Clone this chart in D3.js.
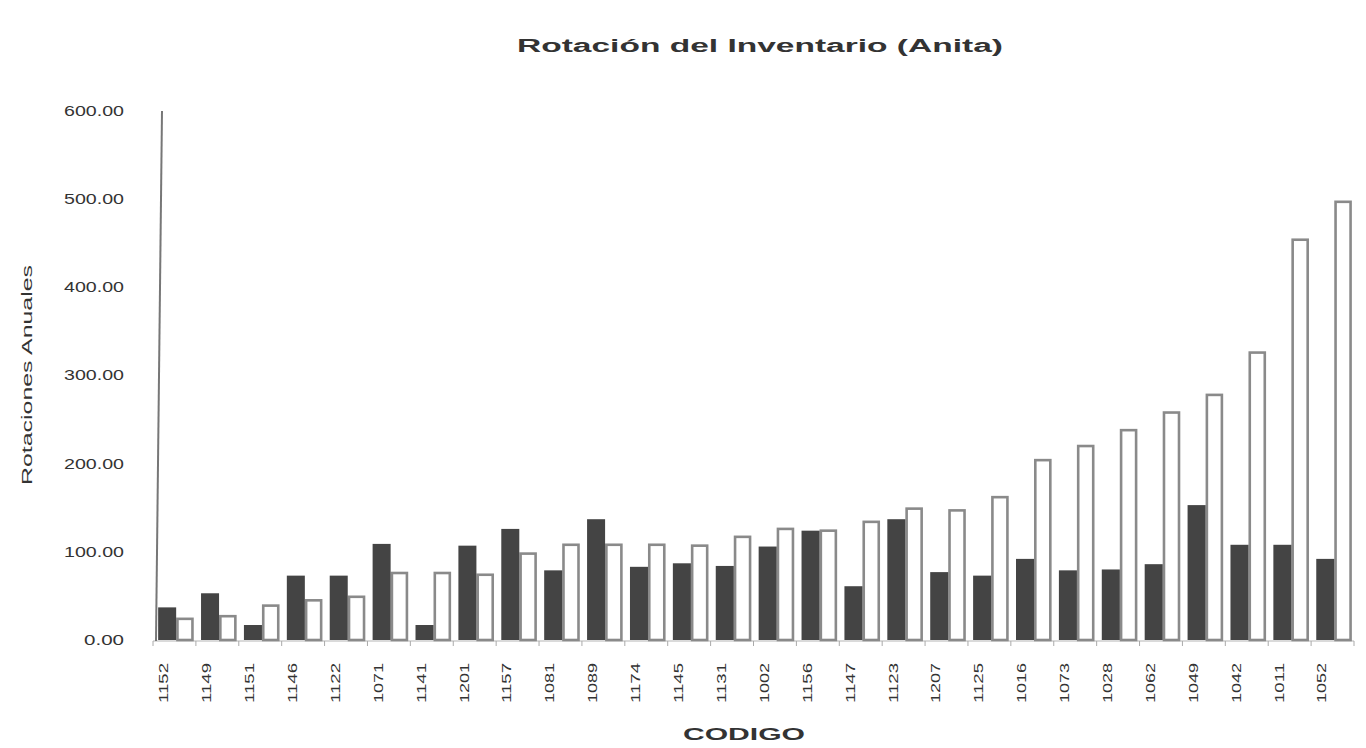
<!DOCTYPE html>
<html>
<head>
<meta charset="utf-8">
<script src="https://cdn.jsdelivr.net/npm/d3@7"></script>
<style>
  html, body { margin: 0; padding: 0; background: #ffffff; }
  svg { display: block; }
  text { font-family: "Liberation Sans", Arial, sans-serif; fill: #333; }
</style>
</head>
<body>
<svg id="chart" width="1366" height="748"></svg>
<script>
const codes = ["1152","1149","1151","1146","1122","1071","1141","1201","1157","1081","1089","1174","1145","1131","1002","1156","1147","1123","1207","1125","1016","1073","1028","1062","1049","1042","1011","1052"];
const darkValues  = [37, 53, 17, 73, 73, 109, 17, 107, 126, 79, 137, 83, 87, 84, 106, 124, 61, 137, 77, 73, 92, 79, 80, 86, 153, 108, 108, 92];
const whiteValues = [24, 27, 39, 45, 49, 76, 76, 74, 98, 108, 108, 108, 107, 117, 126, 124, 134, 149, 147, 162, 204, 220, 238, 258, 278, 326, 454, 497];
const yTicks = [0, 100, 200, 300, 400, 500, 600];
const titleText = "Rotación del Inventario (Anita)";
const yLabelText = "Rotaciones Anuales";
const xLabelText = "CODIGO";

const svg = d3.select("#chart");
const margin = {left: 153, right: 12, top: 111, bottom: 108};
const W = 1366, H = 748;

const x = d3.scaleBand()
  .domain(d3.range(codes.length))
  .range([margin.left, W - margin.right])
  .paddingInner(0).paddingOuter(0);
const y = d3.scaleLinear().domain([0, 600]).range([H - margin.bottom, margin.top]);
const bw = x.bandwidth();

// baseline
svg.append("line")
  .attr("x1", x.range()[0]).attr("x2", x.range()[1])
  .attr("y1", y(0) + 1).attr("y2", y(0) + 1)
  .attr("stroke", "#b5b5b5").attr("stroke-width", 1);

// x ticks at band boundaries
svg.append("g").selectAll("line")
  .data(d3.range(codes.length + 1))
  .join("line")
  .attr("x1", i => x.range()[0] + i * x.step())
  .attr("x2", i => x.range()[0] + i * x.step())
  .attr("y1", y(0) + 1).attr("y2", y(0) + 6)
  .attr("stroke", "#aaa").attr("stroke-width", 1);

// white (outlined) bars
svg.append("g").selectAll("rect")
  .data(whiteValues)
  .join("rect")
  .attr("x", (d, i) => x(i) + bw * 0.57)
  .attr("width", bw * 0.35)
  .attr("y", d => y(d))
  .attr("height", d => y(0) - y(d))
  .attr("fill", "#ffffff")
  .attr("stroke", "#8a8a8a")
  .attr("stroke-width", 2.6);

// dark bars
svg.append("g").selectAll("rect")
  .data(darkValues)
  .join("rect")
  .attr("x", (d, i) => x(i) + bw * 0.12)
  .attr("width", bw * 0.42)
  .attr("y", d => y(d))
  .attr("height", d => y(0) - y(d))
  .attr("fill", "#444444");

// y axis line
svg.append("line")
  .attr("x1", 162).attr("x2", 156)
  .attr("y1", y(600)).attr("y2", y(0) + 1)
  .attr("stroke", "#777").attr("stroke-width", 2);

// y tick labels
const fmt = d3.format(".2f");
svg.append("g").selectAll("text")
  .data(yTicks)
  .join("text")
  .attr("x", 124)
  .attr("y", d => y(d))
  .attr("dy", "0.35em")
  .attr("text-anchor", "end")
  .attr("font-size", 14)
  .attr("textLength", d => fmt(d).length * 10)
  .attr("lengthAdjust", "spacingAndGlyphs")
  .text(d => fmt(d));

// x tick labels (rotated)
svg.append("g").selectAll("text")
  .data(codes)
  .join("text")
  .attr("transform", (d, i) => `translate(${x(i) + bw * 0.26},663) rotate(-90)`)
  .attr("text-anchor", "end")
  .attr("dy", "0.35em")
  .attr("font-size", 12)
  .attr("textLength", 40)
  .attr("lengthAdjust", "spacingAndGlyphs")
  .text(d => d);

// title
svg.append("text")
  .attr("x", 760).attr("y", 52)
  .attr("text-anchor", "middle")
  .attr("font-size", 18).attr("font-weight", "bold")
  .attr("textLength", 486)
  .attr("lengthAdjust", "spacingAndGlyphs")
  .text(titleText);

// x axis title
svg.append("text")
  .attr("x", 744).attr("y", 740)
  .attr("text-anchor", "middle")
  .attr("font-size", 17).attr("font-weight", "bold")
  .attr("textLength", 122)
  .attr("lengthAdjust", "spacingAndGlyphs")
  .text(xLabelText);

// y axis title
svg.append("text")
  .attr("transform", "translate(27,375) rotate(-90)")
  .attr("text-anchor", "middle")
  .attr("dy", "0.35em")
  .attr("font-size", 14)
  .attr("textLength", 220)
  .attr("lengthAdjust", "spacingAndGlyphs")
  .text(yLabelText);
</script>
</body>
</html>
